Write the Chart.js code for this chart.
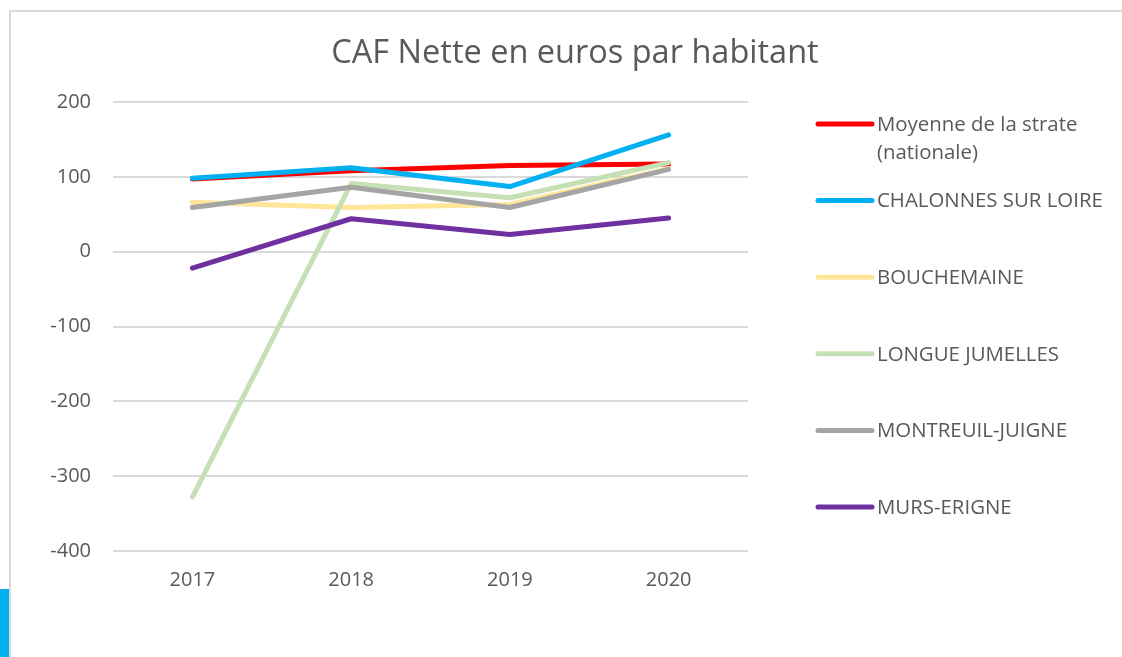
<!DOCTYPE html>
<html>
<head>
<meta charset="utf-8">
<script src="https://cdn.jsdelivr.net/npm/chart.js@4"></script>
<style>
  html, body { margin: 0; padding: 0; background: #fff; }
  body { width: 1122px; height: 657px; position: relative; overflow: hidden; }
  #cadre { position: absolute; left: 9px; top: 10px; width: 1200px; height: 700px;
           border-top: 2px solid #d9d9d9; border-left: 2px solid #d9d9d9; }
  #bleu { position: absolute; left: 0; top: 589px; width: 9px; height: 68px; background: #00b0f0; }
  #graph { position: absolute; left: 0; top: 0; }
</style>
</head>
<body>
<div id="cadre"></div>
<div id="bleu"></div>
<canvas id="graph" width="1122" height="657"></canvas>
<script>
const annees = ['2017', '2018', '2019', '2020'];
const titre = 'CAF Nette en euros par habitant';

const moyenneStrate = [97, 108, 115, 117];
const chalonnes = [98, 112, 87, 156];
const bouchemaine = [66, 59, 63, 111];
const longueJumelles = [-328, 91, 72, 119];
const montreuilJuigne = [59, 86, 59, 110];
const mursErigne = [-22, 44, 23, 45];

const series = [
  { nom: ['Moyenne de la strate', '(nationale)'], valeurs: moyenneStrate, couleur: '#ff0000' },
  { nom: ['CHALONNES SUR LOIRE'], valeurs: chalonnes, couleur: '#00b0f0' },
  { nom: ['BOUCHEMAINE'], valeurs: bouchemaine, couleur: '#ffe699' },
  { nom: ['LONGUE JUMELLES'], valeurs: longueJumelles, couleur: '#c5e0b4' },
  { nom: ['MONTREUIL-JUIGNE'], valeurs: montreuilJuigne, couleur: '#a5a5a5' },
  { nom: ['MURS-ERIGNE'], valeurs: mursErigne, couleur: '#7030a0' }
];

const police = '"Open Sans", "Liberation Sans", sans-serif';
const gris = '#595959';

// titre + legende facon Excel
const decor = {
  id: 'decor',
  afterDraw(chart) {
    const ctx = chart.ctx;
    ctx.save();
    ctx.fillStyle = gris;
    ctx.font = '32.5px ' + police;
    ctx.textAlign = 'center';
    ctx.textBaseline = 'middle';
    ctx.fillText(titre, 575, 54);

    ctx.font = '20.4px ' + police;
    ctx.textAlign = 'left';
    chart.data.datasets.forEach((ds, i) => {
      const y = 124 + i * 76.6;
      ctx.strokeStyle = ds.borderColor;
      ctx.lineWidth = 5;
      ctx.lineCap = 'round';
      ctx.beginPath();
      ctx.moveTo(818, y);
      ctx.lineTo(872, y);
      ctx.stroke();
      series[i].nom.forEach((ligne, k) => {
        ctx.fillText(ligne, 877, y + 1 + k * 28);
      });
    });
    ctx.restore();
  }
};

new Chart(document.getElementById('graph'), {
  type: 'line',
  data: {
    labels: annees,
    datasets: series.map((s, i) => ({
      label: s.nom.join(' '),
      data: s.valeurs,
      borderColor: s.couleur,
      backgroundColor: s.couleur,
      borderWidth: 5,
      borderCapStyle: 'round',
      borderJoinStyle: 'round',
      pointRadius: 0,
      tension: 0,
      order: series.length - i
    }))
  },
  options: {
    responsive: false,
    animation: false,
    layout: { padding: { left: 30, right: 374, top: 102, bottom: 66 } },
    plugins: {
      legend: { display: false },
      title: { display: false },
      tooltip: { enabled: false }
    },
    scales: {
      x: {
        offset: true,
        grid: { display: false },
        border: { display: false },
        ticks: { color: gris, font: { family: police, size: 20 }, padding: 9 },
        afterFit(scale) { scale.height = 40; }
      },
      y: {
        min: -400,
        max: 200,
        ticks: { stepSize: 100, color: gris, font: { family: police, size: 20 }, padding: 22 },
        grid: { color: '#d9d9d9', lineWidth: 2, drawTicks: false },
        border: { display: false },
        afterFit(scale) { scale.width = 83; }
      }
    }
  },
  plugins: [decor]
});
</script>
</body>
</html>
